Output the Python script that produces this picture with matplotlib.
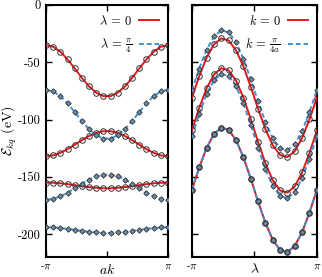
import matplotlib
matplotlib.use("Agg")
import matplotlib.pyplot as plt
import numpy as np

# sample points: 18 values from -pi to pi (same grid in both panels)
ak = np.linspace(-np.pi, np.pi, 18)
lam = np.linspace(-np.pi, np.pi, 18)

# left panel, lambda = 0 (red) -- first half, mirrored
red_k_half = [
    [-35.0, -36.5, -40.9, -47.5, -55.4, -63.7, -71.1, -76.6, -79.6],
    [-132.0, -131.3, -129.1, -125.9, -122.0, -118.0, -114.4, -111.6, -110.2],
    [-155.0, -155.2, -155.7, -156.4, -157.3, -158.2, -159.0, -159.6, -160.0],
]
# left panel, lambda = pi/4 (blue)
blue_k_half = [
    [-74.0, -75.5, -79.6, -85.9, -93.5, -101.4, -108.5, -113.8, -116.6],
    [-170.0, -169.3, -167.1, -163.9, -160.0, -156.0, -152.4, -149.6, -148.2],
    [-194.0, -194.2, -194.7, -195.4, -196.3, -197.2, -198.0, -198.6, -199.0],
]

# right panel, k = 0 (red)
red_lam = [
    [-81.0, -62.2, -46.0, -34.4, -29.2, -31.0, -39.5, -53.6, -71.4,
     -90.6, -108.4, -122.5, -131.0, -132.8, -127.6, -116.0, -99.8, -81.0],
    [-109.5, -89.8, -72.8, -60.7, -55.2, -57.1, -66.0, -80.8, -99.5,
     -119.5, -138.2, -153.0, -161.9, -163.8, -158.3, -146.2, -129.2, -109.5],
    [-161.5, -141.8, -124.8, -112.7, -107.2, -109.1, -118.0, -132.8, -151.5,
     -171.5, -190.2, -205.0, -213.9, -215.8, -210.3, -198.2, -181.2, -161.5],
]
# right panel, k = pi/4a (blue)
blue_lam = [
    [-74.5, -55.5, -39.1, -27.5, -22.2, -24.0, -32.6, -46.9, -64.9,
     -84.1, -102.1, -116.4, -125.0, -126.8, -121.5, -109.9, -93.5, -74.5],
    [-114.5, -94.8, -77.8, -65.7, -60.2, -62.1, -71.0, -85.8, -104.5,
     -124.5, -143.2, -158.0, -166.9, -168.8, -163.3, -151.2, -134.2, -114.5],
    [-161.5, -141.8, -124.8, -112.7, -107.2, -109.1, -118.0, -132.8, -151.5,
     -171.5, -190.2, -205.0, -213.9, -215.8, -210.3, -198.2, -181.2, -161.5],
]

yticks = [0, -50, -100, -150, -200]
xtick_labels = [r"-$\pi$", "", r"$\pi$"]

RED = "#e8151b"
BLUE = "#3f8fd2"

plt.rcParams["font.family"] = ["cmr10", "DejaVu Serif"]
plt.rcParams["mathtext.fontset"] = "cm"
plt.rcParams["axes.unicode_minus"] = False
plt.rcParams["axes.formatter.use_mathtext"] = True


def full(half):
    # 9 values for i = 0..8, mirror to 18 points
    h = list(half)
    return np.array(h + h[::-1])


def style_axes(ax, xlabel, show_ylabels):
    ax.set_xlim(-np.pi, np.pi)
    ax.set_ylim(-220, 0)
    ax.set_xticks([-np.pi, 0, np.pi])
    ax.set_xticklabels(xtick_labels, fontsize=8)
    ax.set_yticks(yticks)
    if show_ylabels:
        ax.set_yticklabels([str(v) for v in yticks], fontsize=9)
    else:
        ax.set_yticklabels([])
    ax.tick_params(direction="in", length=4, width=1, top=True, right=True)
    ax.tick_params(axis="x", pad=3)
    ax.tick_params(axis="y", pad=4)
    for sp in ax.spines.values():
        sp.set_linewidth(1.5)
    ax.set_xlabel(xlabel, fontsize=10)
    ax.xaxis.set_label_coords(0.5, -0.022)


def draw(ax, x, reds, blues, lab_r, lab_b):
    for i, y in enumerate(reds):
        ax.plot(x, y, color=RED, lw=1.4, zorder=3, label=lab_r if i == 0 else None)
        ax.plot(x, y, ls="none", marker="o", ms=4.0, mfc="none", mec="#333333", mew=0.7, zorder=4)
    for i, y in enumerate(blues):
        ax.plot(x, y, color=BLUE, lw=1.4, ls=(0, (2.5, 1.5)), zorder=3, label=lab_b if i == 0 else None)
        ax.plot(x, y, ls="none", marker="D", ms=2.8, mfc="#6d8ca8", mec="#333333", mew=0.6, zorder=5)
    ax.legend(loc="upper right", frameon=False, markerfirst=False, fontsize=9,
              handlelength=1.6, borderaxespad=0.3, labelspacing=0.7, handletextpad=0.6)


fig = plt.figure(figsize=(3.22, 2.77), dpi=100)
ax1 = fig.add_axes([46 / 322, 0.0722, 122 / 322, 0.910])
ax2 = fig.add_axes([0.596, 0.0722, 0.388, 0.910])

draw(ax1, ak, [full(h) for h in red_k_half], [full(h) for h in blue_k_half],
     r"$\lambda\,=\,0$", r"$\lambda\,=\,\frac{\pi}{4}$")
draw(ax2, lam, [np.array(v) for v in red_lam], [np.array(v) for v in blue_lam],
     r"$k\,=\,0$", r"$k\,=\,\frac{\pi}{4a}$")

style_axes(ax1, r"$ak$", True)
style_axes(ax2, r"$\lambda$", False)
ax1.set_ylabel(r"$\mathcal{E}_{kq}$ (eV)", fontsize=10)
ax1.yaxis.set_label_coords(-0.225, 0.5)

fig.savefig("out.png", dpi=100)
